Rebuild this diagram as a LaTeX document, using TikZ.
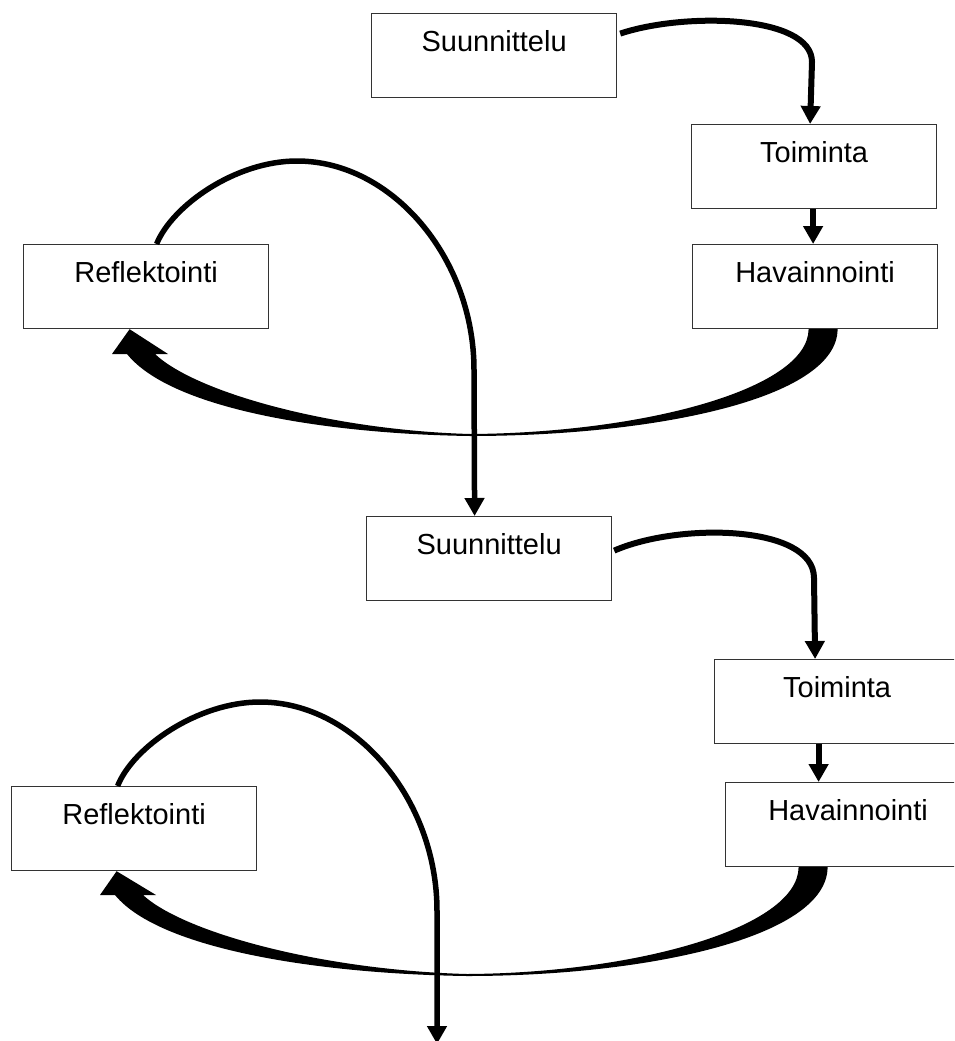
\documentclass[tikz,border=0pt]{standalone}
\usepackage{fontspec}
\setmainfont{Liberation Sans}
\usetikzlibrary{arrows.meta}
\begin{document}
\begin{tikzpicture}[x=1pt,y=-1pt,
  stagebox/.style={draw=black!80, line width=1.2pt, fill=white, anchor=north west,
    minimum width=245pt, inner sep=0pt, text height=38pt, text depth=46pt,
    font=\fontsize{29}{34}\selectfont},
  flow/.style={line width=6pt, -{Triangle[width=19pt,length=18pt]}},
  loopline/.style={line width=5.5pt, -{Triangle[width=19pt,length=18pt]}},
]
\useasboundingbox (0,0) rectangle (954,1041);
\clip (0,0) rectangle (954,1041);

% first cycle
\node[stagebox] (S1) at (371,13)  {Suunnittelu};
\node[stagebox] (T1) at (691,124) {Toiminta};
\node[stagebox] (H1) at (692,244) {Havainnointi};
\node[stagebox] (R1) at (23,244)  {Reflektointi};

% second cycle
\node[stagebox] (S2) at (366,516) {Suunnittelu};
\node[stagebox] (T2) at (714,659) {Toiminta};
\node[stagebox] (H2) at (725,782) {Havainnointi};
\node[stagebox] (R2) at (11,786)  {Reflektointi};

\coordinate (out) at (437,1044);

% planning -> action -> observation
\draw[flow] ([xshift=3pt,yshift=22pt]S1.east)
  .. controls (685,12) and (812,15) .. (812,62) -- ([xshift=-4pt]T1.north);
\draw[flow] ([xshift=-1pt]T1.south) -- ([xshift=-1pt]T1.south |- H1.north);

\draw[flow] ([xshift=2pt,yshift=8pt]S2.east)
  .. controls (680,522) and (814,525) .. (814,578) -- ([xshift=-22pt]T2.north);
\draw[flow] ([xshift=-18.5pt]T2.south) -- ([xshift=-18.5pt]T2.south |- H2.north);

% tapered sweep from observation back to reflection
\fill ([xshift=22.5pt]H1.south)
  .. controls (837,400) and (650,436) .. (470,436)
  .. controls (330,434) and (172,410) .. (127,354)
  -- (112,354) -- ([xshift=-16.5pt]R1.south) -- (168,354) -- (155,354)
  .. controls (195,392) and (330,430) .. (470,434)
  .. controls (640,433) and (808,390) .. ([xshift=-6.5pt]H1.south) -- cycle;

\fill ([xshift=-20.5pt]H2.south)
  .. controls (827,938) and (645,976) .. (467,976)
  .. controls (322,974) and (160,950) .. (115,895)
  -- (100,895) -- ([xshift=-17.5pt]R2.south) -- (156,895) -- (143,895)
  .. controls (183,932) and (320,970) .. (467,974)
  .. controls (635,973) and (798,928) .. ([xshift=-49.5pt]H2.south) -- cycle;

% reflection leads on to the next plan
\draw[loopline] ([xshift=10.5pt]R1.north)
  .. controls (172,206) and (235,161) .. (297,161)
  .. controls (392,161) and (474,258) .. (474,370)
  -- ([xshift=-14.5pt]S2.north);

\draw[loopline] ([xshift=-16.5pt]R2.north)
  .. controls (133,747) and (198,702) .. (260,702)
  .. controls (355,702) and (437,799) .. (437,911)
  -- (out);
\end{tikzpicture}
\end{document}
